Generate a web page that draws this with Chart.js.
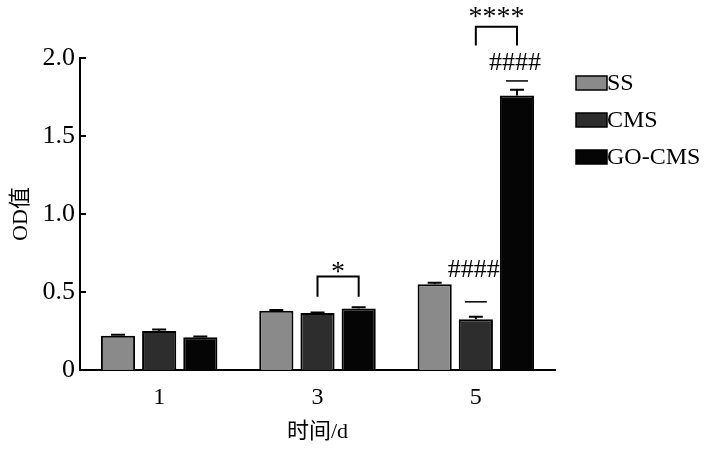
<!DOCTYPE html>
<html>
<head>
<meta charset="utf-8">
<script src="https://cdn.jsdelivr.net/npm/chart.js@4"></script>
<style>
  html, body { margin: 0; padding: 0; background: #fff; }
  #wrap { width: 726px; height: 450px; }
</style>
</head>
<body>
<div id="wrap"><canvas id="mycanvas" width="726" height="450"></canvas></div>
<script>
var categories = ['1', '3', '5'];
var seriesNames = ['SS', 'CMS', 'GO-CMS'];
var ssValues = [0.22, 0.38, 0.55];
var cmsValues = [0.25, 0.365, 0.325];
var goValues = [0.21, 0.395, 1.76];
var ssErr = [0.006, 0.005, 0.01];
var cmsErr = [0.01, 0.004, 0.017];
var goErr = [0.005, 0.008, 0.037];
var yTicks = [0, 0.5, 1.0, 1.5, 2.0];

// significance brackets: between two series in one category
var brackets = [
  { cat: 1, from: 1, to: 2, top: 0.60, bottom: 0.47, label: '*', labelY: 0.655 },
  { cat: 2, from: 1, to: 2, top: 2.20, bottom: 2.08, label: '****', labelY: 2.29 }
];
// "####" marks above single bars
var marks = [
  { cat: 2, series: 1, label: '####', labelY: 0.64, dashY: 0.437 },
  { cat: 2, series: 2, label: '####', labelY: 1.97, dashY: 1.853 }
];

var FONT = "'Liberation Serif', 'Times New Roman', 'Noto Sans CJK SC', serif";

var extras = {
  id: 'extras',
  afterDatasetsDraw: function(chart) {
    var ctx = chart.ctx;
    var y = chart.scales.y;
    var errs = [ssErr, cmsErr, goErr];
    ctx.save();
    ctx.strokeStyle = '#000';
    ctx.fillStyle = '#000';
    // error bars
    chart.data.datasets.forEach(function(ds, di) {
      var meta = chart.getDatasetMeta(di);
      meta.data.forEach(function(bar, i) {
        var top = y.getPixelForValue(ds.data[i] + errs[di][i]);
        ctx.lineWidth = 2;
        ctx.beginPath();
        ctx.moveTo(bar.x, bar.y);
        ctx.lineTo(bar.x, top);
        ctx.moveTo(bar.x - 7, top);
        ctx.lineTo(bar.x + 7, top);
        ctx.stroke();
      });
    });
    // inward y ticks
    ctx.lineWidth = 2;
    yTicks.forEach(function(v) {
      var py = y.getPixelForValue(v);
      ctx.beginPath();
      ctx.moveTo(chart.chartArea.left, py);
      ctx.lineTo(chart.chartArea.left + 6, py);
      ctx.stroke();
    });
    // brackets
    ctx.textAlign = 'center';
    ctx.textBaseline = 'middle';
    brackets.forEach(function(b) {
      var x1 = chart.getDatasetMeta(b.from).data[b.cat].x;
      var x2 = chart.getDatasetMeta(b.to).data[b.cat].x;
      var yt = y.getPixelForValue(b.top), yb = y.getPixelForValue(b.bottom);
      ctx.lineWidth = 2;
      ctx.beginPath();
      ctx.moveTo(x1, yb);
      ctx.lineTo(x1, yt);
      ctx.lineTo(x2, yt);
      ctx.lineTo(x2, yb);
      ctx.stroke();
      ctx.font = '28px ' + FONT;
      ctx.fillText(b.label, (x1 + x2) / 2, y.getPixelForValue(b.labelY) + 5);
    });
    marks.forEach(function(m) {
      var x = chart.getDatasetMeta(m.series).data[m.cat].x;
      ctx.font = '26px ' + FONT;
      ctx.fillText(m.label, x - 2, y.getPixelForValue(m.labelY));
      var dy = y.getPixelForValue(m.dashY);
      ctx.lineWidth = 1.5;
      ctx.beginPath();
      ctx.moveTo(x - 11, dy);
      ctx.lineTo(x + 11, dy);
      ctx.stroke();
    });
    // legend
    ctx.textAlign = 'left';
    ctx.font = '24px ' + FONT;
    chart.data.datasets.forEach(function(ds, di) {
      var cy = 83 + di * 37;
      ctx.fillStyle = ds.backgroundColor;
      ctx.fillRect(576, cy - 7, 31, 14);
      ctx.lineWidth = 1.5;
      ctx.strokeStyle = '#000';
      ctx.strokeRect(576, cy - 7, 31, 14);
      ctx.fillStyle = '#000';
      ctx.fillText(ds.label, 607, cy + 1);
    });
    ctx.restore();
  }
};

var ctx = document.getElementById('mycanvas');
var chart = new Chart(ctx, {
  type: 'bar',
  data: {
    labels: categories,
    datasets: [
      { label: seriesNames[0], data: ssValues, backgroundColor: '#8a8a8a', borderColor: '#000', borderWidth: 2 },
      { label: seriesNames[1], data: cmsValues, backgroundColor: '#2d2d2d', borderColor: '#000', borderWidth: 2 },
      { label: seriesNames[2], data: goValues, backgroundColor: '#050505', borderColor: '#000', borderWidth: 2 }
    ]
  },
  options: {
    responsive: false,
    animation: false,
    layout: { padding: { top: 58, right: 171, bottom: 0, left: 0 } },
    datasets: { bar: { categoryPercentage: 0.78, barPercentage: 0.83 } },
    plugins: { legend: { display: false }, tooltip: { enabled: false } },
    scales: {
      x: {
        grid: { display: false, drawTicks: false },
        border: { display: true, color: '#000', width: 2 },
        ticks: { color: '#000', padding: 13, font: { family: FONT, size: 24 } },
        title: { display: true, text: '时间/d', color: '#000', padding: { top: 0, bottom: 5 }, font: { family: FONT, size: 22 } },
        afterFit: function(s) { s.height = 80; }
      },
      y: {
        min: 0, max: 2.0,
        grid: { display: false, drawTicks: false },
        border: { display: true, color: '#000', width: 2 },
        afterBuildTicks: function(s) { s.ticks = yTicks.map(function(v) { return { value: v }; }); },
        ticks: {
          color: '#000', padding: 5, font: { family: FONT, size: 26 },
          callback: function(v) { return v === 0 ? '0' : v.toFixed(1); }
        },
        title: { display: true, text: 'OD值', color: '#000', padding: { top: 8, bottom: 0 }, font: { family: FONT, size: 22 } },
        afterFit: function(s) { s.width = 80; }
      }
    }
  },
  plugins: [extras]
});
</script>
</body>
</html>
